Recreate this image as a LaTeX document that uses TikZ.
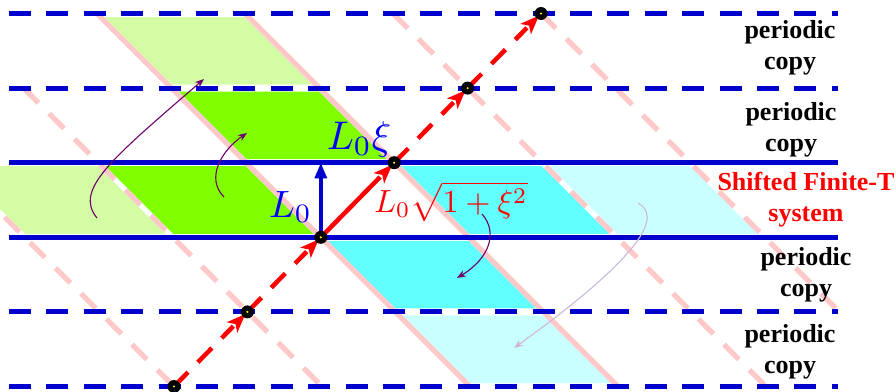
\documentclass[tikz,border=0pt]{standalone}
\usepackage{graphicx}
\usepackage{fontspec}
\newfontfamily\tnr{Liberation Serif}
\usetikzlibrary{arrows.meta,calc}
\definecolor{lineblue}{RGB}{0,0,204}
\definecolor{pinkline}{RGB}{255,200,200}
\definecolor{brgreen}{RGB}{128,255,0}
\definecolor{ltgreen}{RGB}{212,252,164}
\definecolor{cyanfill}{RGB}{98,255,255}
\definecolor{ltcyan}{RGB}{202,255,255}
\definecolor{arrowpurple}{RGB}{110,0,110}
\definecolor{ltpurple}{RGB}{205,182,218}
\definecolor{labelblue}{RGB}{0,0,255}
\begin{document}
\begin{tikzpicture}[x=1pt,y=-1pt,
  hline/.style={lineblue,line width=5pt},
  hdash/.style={hline,dash pattern=on 22pt off 15.4pt},
  diag/.style={pinkline,line width=5pt},
  diagdash/.style={diag,dash pattern=on 21pt off 15pt},
  under/.style={white,line width=5pt},
  redseg/.style={red,line width=4.5pt,dash pattern=on 20pt off 14pt},
  redsolid/.style={red,line width=4.5pt},
  redhead/.style={fill=red},
  bluearrow/.style={lineblue,line width=4.5pt},
  bluehead/.style={fill=lineblue},
  dot/.style={circle,fill=black,minimum size=13pt,inner sep=0pt,
    path picture={\fill[yellow] (path picture bounding box.center) circle (1.2pt);}},
  parrow/.style={arrowpurple,line width=1.1pt,-{Stealth[length=9pt,width=7pt]}},
  lparrow/.style={ltpurple,line width=1.1pt,-{Stealth[length=9pt,width=7pt]}},
  txt/.style={font=\tnr\bfseries\fontsize{26}{31}\selectfont,align=center,inner sep=0pt},
  mathlbl/.style={inner sep=0pt,anchor=base}
]
\useasboundingbox (0,0) rectangle (896,391);
\clip (0,0) rectangle (896,391);
% fills
\fill[ltgreen] (100.5,17) -- (248.5,17) -- (316.1,84.6) -- (168.1,84.6) -- cycle;
\fill[brgreen] (175.1,91.6) -- (323.1,91.6) -- (390.7,159.2) -- (242.7,159.2) -- cycle;
\fill[brgreen] (101.7,166.2) -- (249.7,166.2) -- (317.3,233.8) -- (169.3,233.8) -- cycle;
\fill[ltgreen] (-46.3,166.2) -- (101.7,166.2) -- (169.3,233.8) -- (21.3,233.8) -- cycle;
\fill[cyanfill] (397.7,166.2) -- (545.7,166.2) -- (613.3,233.8) -- (465.3,233.8) -- cycle;
\fill[ltcyan] (545.7,166.2) -- (693.7,166.2) -- (761.3,233.8) -- (613.3,233.8) -- cycle;
\fill[cyanfill] (324.3,240.8) -- (472.3,240.8) -- (539.9,308.4) -- (391.9,308.4) -- cycle;
\fill[ltcyan] (398.9,315.4) -- (546.9,315.4) -- (614.5,383) -- (466.5,383) -- cycle;
% diagonals
\foreach \c/\s/\e in {-212.5/13.5/386.5,-64.5/88.1/386.5,83.5/13.5/386.5,231.5/13.5/386.5,379.5/13.5/386.5,527.5/13.5/310.5}
  \draw[under] ({\c+\s},\s) -- ({\c+\e},\e);
\foreach \c/\s/\e in {-212.5/13.5/386.5,-64.5/88.1/386.5,379.5/13.5/386.5,527.5/13.5/310.5}
  \draw[diagdash] ({\c+\s},\s) -- ({\c+\e},\e);
\foreach \c in {83.5,231.5}
  \draw[diag] ({\c+13.5},13.5) -- ({\c+386.5},386.5);
% horizontal lines
\draw[hdash] (9,13.5) -- (838,13.5);
\draw[hdash] (9,88.1) -- (838,88.1);
\draw[hline] (9,162.7) -- (838,162.7);
\draw[hline] (9,237.3) -- (838,237.3);
\draw[hdash] (9,311.9) -- (838,311.9);
\draw[hdash] (9,386.5) -- (838,386.5);
% purple arrows
\coordinate (a1s) at (97,218); \coordinate (a1e) at (204,79);
\coordinate (a2s) at (224,197); \coordinate (a2e) at (247,133);
\coordinate (a3s) at (482,214); \coordinate (a3e) at (457,278);
\coordinate (a4s) at (638,203); \coordinate (a4e) at (514,348);
\draw[parrow] (a1s) .. controls (74,190) and (110,160) .. (a1e);
\draw[parrow] (a2s) .. controls (205,178) and (222,150) .. (a2e);
\draw[parrow] (a3s) .. controls (498,232) and (490,258) .. (a3e);
\draw[lparrow] (a4s) .. controls (660,215) and (650,250) .. (a4e);
% red line and dots
\coordinate (p0) at (541,13.5);
\coordinate (p1) at (467.6,88.1);
\coordinate (p2) at (394.2,162.7);
\coordinate (p3) at (320.8,237.3);
\coordinate (p4) at (247.4,311.9);
\coordinate (p5) at (174,386.5);
\coordinate (btop) at (320.8,163.3);
\coordinate (bbase) at (320.8,178.3);
\draw[bluearrow] (p3) -- (bbase);
\fill[bluehead] (btop) -- ($(bbase)+(6.5,0)$) -- ($(bbase)+(-6.5,0)$) -- cycle;
\draw[redseg] (p5) -- ($(p4)!20pt!(p5)$);
\draw[redseg] (p4) -- ($(p3)!20pt!(p4)$);
\draw[redsolid] (p3) -- ($(p2)!20pt!(p3)$);
\draw[redseg] (p2) -- ($(p1)!20pt!(p2)$);
\draw[redseg] (p1) -- ($(p0)!20pt!(p1)$);
\foreach \a/\b in {p4/p5,p3/p4,p2/p3,p1/p2,p0/p1}{
  \coordinate (hb) at ($(\a)!22pt!(\b)$);
  \fill[redhead] ($(\a)!3pt!(\b)$) -- ($(hb)!7.5pt!90:(\a)$) -- ($(\a)!17pt!(\b)$) -- ($(hb)!7.5pt!-90:(\a)$) -- cycle;
}
\foreach \i in {0,...,5} \node[dot] (d\i) at (p\i) {};
% labels
\node[mathlbl,text=labelblue] (lxi) at (359,149.3) {\scalebox{4}{$L_0\xi$}};
\node[mathlbl,text=labelblue] (l0) at (290.5,217) {\scalebox{3.8}{$L_0$}};
\node[mathlbl,text=red] (lsq) at (451,212.5) {\scalebox{3.2}{$L_0\sqrt{1+\xi^2}$}};
\node[txt] (pc1) at (790,48) {periodic\\copy};
\node[txt] (pc2) at (791,130) {periodic\\copy};
\node[txt,text=red] (sys) at (806,200) {Shifted Finite-T\\system};
\node[txt] (pc3) at (806,275) {periodic\\copy};
\node[txt] (pc4) at (790,352) {periodic\\copy};
\end{tikzpicture}
\end{document}
